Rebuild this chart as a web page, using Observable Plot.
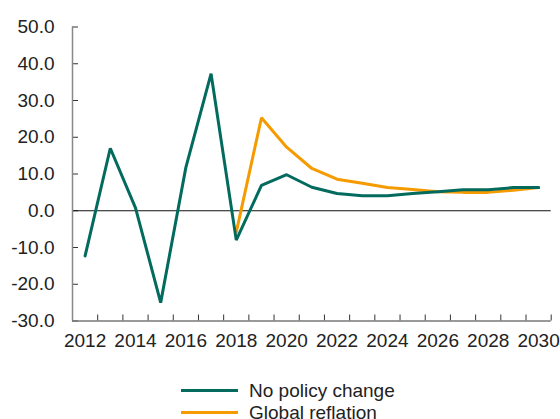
<!DOCTYPE html>
<html>
<head>
<meta charset="utf-8">
<script src="https://cdn.jsdelivr.net/npm/d3@7"></script>
<script src="https://cdn.jsdelivr.net/npm/@observablehq/plot@0.6"></script>
<style>
  html, body { margin: 0; padding: 0; background: #fff; overflow: hidden; }
  #wrap { position: relative; width: 560px; height: 419px; font-family: Arial, "Liberation Sans", sans-serif; color: #222; }
  #legend { position: absolute; left: 0; top: 0; width: 560px; }
  .item { position: absolute; left: 181px; height: 22px; display: flex; align-items: center; font-size: 19px; white-space: nowrap; }
  .swatch { width: 57px; height: 3px; margin-right: 11px; }
</style>
</head>
<body>
<div id="wrap"></div>
<script>
const years = [2012, 2013, 2014, 2015, 2016, 2017, 2018, 2019, 2020, 2021, 2022, 2023, 2024, 2025, 2026, 2027, 2028, 2029, 2030];
const noPolicyChange = [-12.3, 17.0, 0.8, -25.0, 11.8, 37.3, -8.0, 6.9, 9.8, 6.4, 4.7, 4.1, 4.1, 4.7, 5.2, 5.7, 5.7, 6.3, 6.3];
const reflationYears = [2018, 2019, 2020, 2021, 2022, 2023, 2024, 2025, 2026, 2027, 2028, 2029, 2030];
const globalReflation = [-5.8, 25.3, 17.3, 11.5, 8.6, 7.5, 6.3, 5.8, 5.2, 5.0, 5.0, 5.6, 6.3];
const yTicks = [-30, -20, -10, 0, 10, 20, 30, 40, 50];
const xLabelTicks = [2012, 2014, 2016, 2018, 2020, 2022, 2024, 2026, 2028, 2030];
const seriesNames = ["No policy change", "Global reflation"];
const seriesColors = ["#036b5e", "#f59b00"];

const green = years.map((y, i) => ({year: y, value: noPolicyChange[i]}));
const orange = reflationYears.map((y, i) => ({year: y, value: globalReflation[i]}));
const xMin = years[0] - 0.5, xMax = years[years.length - 1] + 0.5;
const boundaries = d3.range(xMin, xMax + 0.01, 1);

const chart = Plot.plot({
  width: 560,
  height: 360,
  marginLeft: 72,
  marginRight: 9.3,
  marginTop: 26.5,
  marginBottom: 39.5,
  style: {fontSize: "19px", fontFamily: 'Arial, "Liberation Sans", sans-serif', color: "#222", background: "#fff"},
  x: {type: "linear", domain: [xMin, xMax]},
  y: {domain: [-30, 50]},
  marks: [
    Plot.axisY({ticks: yTicks, tickSize: 0, tickPadding: 18, tickFormat: d => d.toFixed(1), label: null}),
    Plot.axisY({ticks: yTicks, tickSize: -6, tickFormat: () => "", label: null, stroke: "#333"}),
    Plot.axisX({ticks: xLabelTicks, tickSize: 0, tickPadding: 12.5, tickFormat: d => String(d), label: null}),
    Plot.axisX({ticks: boundaries, tickSize: -6, tickFormat: () => "", label: null, stroke: "#333"}),
    Plot.ruleY([0], {stroke: "#111", strokeWidth: 1}),
    Plot.ruleX([xMin], {stroke: "#888", strokeWidth: 1.5}),
    Plot.ruleY([-30], {stroke: "#777", strokeWidth: 1.5}),
    Plot.line(orange, {x: "year", y: "value", stroke: seriesColors[1], strokeWidth: 3, strokeLinejoin: "miter"}),
    Plot.line(green, {x: "year", y: "value", stroke: seriesColors[0], strokeWidth: 3, strokeLinejoin: "miter"})
  ]
});

const wrap = document.getElementById("wrap");
wrap.appendChild(chart);
const legend = document.createElement("div");
legend.id = "legend";
seriesNames.forEach((name, i) => {
  const item = document.createElement("div");
  item.className = "item";
  item.style.top = (379.5 + i * 22) + "px";
  const sw = document.createElement("div");
  sw.className = "swatch";
  sw.style.background = seriesColors[i];
  const t = document.createElement("span");
  t.textContent = name;
  item.appendChild(sw);
  item.appendChild(t);
  legend.appendChild(item);
});
wrap.appendChild(legend);
</script>
</body>
</html>
